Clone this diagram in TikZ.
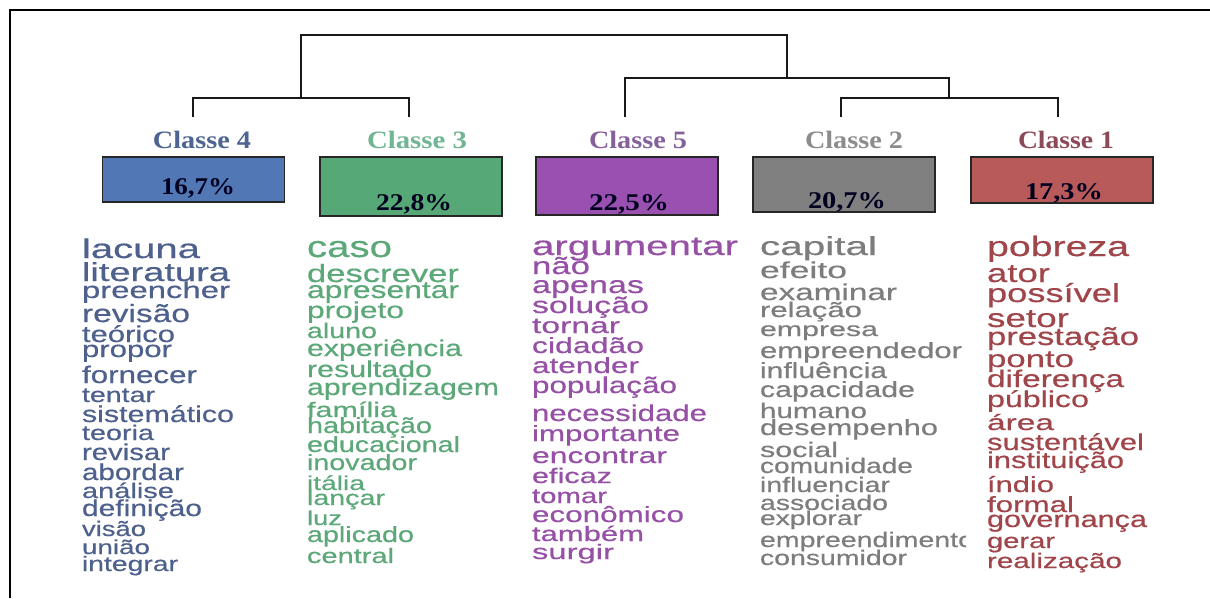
\documentclass[tikz,border=0pt]{standalone}
\usepackage{fontspec}
\usepackage{graphicx}
\setmainfont{Liberation Serif}
\newfontfamily\wordfont{Liberation Sans}[FakeBold=0.4]
\definecolor{cblue}{RGB}{78,96,140}
\definecolor{cgreen}{RGB}{92,168,120}
\definecolor{cpurple}{RGB}{150,80,165}
\definecolor{cgray}{RGB}{125,125,125}
\definecolor{cred}{RGB}{160,70,75}
\definecolor{fblue}{RGB}{82,119,181}
\definecolor{fgreen}{RGB}{86,169,119}
\definecolor{fpurple}{RGB}{154,80,176}
\definecolor{fgray}{RGB}{128,128,128}
\definecolor{fred}{RGB}{184,90,90}
\definecolor{lblue}{RGB}{77,101,144}
\definecolor{lgreen}{RGB}{114,181,146}
\definecolor{lpurple}{RGB}{133,96,154}
\definecolor{lgray}{RGB}{140,140,140}
\definecolor{lred}{RGB}{140,74,88}
\newcommand\fw[2]{\resizebox{#1pt}{\height}{#2}}
\newcommand\wf[1]{\wordfont\fontsize{\the\numexpr#1+1\relax}{20}\selectfont}
\tikzset{
  word/.style={anchor=base west, inner sep=0pt, outer sep=0pt},
  wb/.style={word, text=cblue},
  wg/.style={word, text=cgreen},
  wp/.style={word, text=cpurple},
  wy/.style={word, text=cgray},
  wr/.style={word, text=cred},
  pbox/.style={draw=black!85, line width=1.3pt, minimum width=182pt, inner sep=0pt},
  pct/.style={anchor=base, inner sep=0pt, text=black!88!blue, font=\bfseries\fontsize{24}{24}\selectfont},
  clabel/.style={anchor=base, inner sep=0pt, font=\bfseries\fontsize{25}{25}\selectfont},
  dend/.style={draw=black!90, line width=1.2pt},
  frame/.style={draw=black, line width=2.6pt}
}
\begin{document}
\begin{tikzpicture}[x=1pt,y=-1pt]
\useasboundingbox (0,0) rectangle (1210,598);
\fill[white] (0,0) rectangle (1210,598);
% frame
\coordinate (fa) at (10,598);
\coordinate (fb) at (10,10);
\coordinate (fc) at (1210,10);
\draw[frame] (fa) -- (fb) -- (fc);
% dendrogram joints
\coordinate (t4) at (193,117);
\coordinate (t3) at (409,117);
\coordinate (t5) at (625,117);
\coordinate (t2) at (841,117);
\coordinate (t1) at (1058,117);
\coordinate (j43) at (301,98);
\coordinate (j21) at (949,98);
\coordinate (j521) at (787,78);
\coordinate (jr) at (544,35);
\draw[dend] (t4) |- (j43) -| (t3);
\draw[dend] (t2) |- (j21) -| (t1);
\draw[dend] (t5) |- (j521) -| (j21);
\draw[dend] (j43) |- (jr) -| (j521);
% class labels
\node[clabel, text=lblue] (l4) at (202,148) {\fw{98}{Classe 4}};
\node[clabel, text=lgreen] (l3) at (417,148) {\fw{100}{Classe 3}};
\node[clabel, text=lpurple] (l5) at (638,148) {\fw{98}{Classe 5}};
\node[clabel, text=lgray] (l2) at (854,148) {\fw{98}{Classe 2}};
\node[clabel, text=lred] (l1) at (1066,148) {\fw{96}{Classe 1}};
% boxes
\node[pbox, fill=fblue, minimum height=45pt] (b4) at (193.5,179.5) {};
\node[pbox, fill=fgreen, minimum height=59pt] (b3) at (411,186.5) {};
\node[pbox, fill=fpurple, minimum height=58pt] (b5) at (627,186) {};
\node[pbox, fill=fgray, minimum height=55pt] (b2) at (844,184.5) {};
\node[pbox, fill=fred, minimum height=46pt] (b1) at (1062,180) {};
\node[pct] (p4) at (198,194) {\fw{74}{16,7\%}};
\node[pct] (p3) at (414,210) {\fw{76}{22,8\%}};
\node[pct] (p5) at (629,210) {\fw{80}{22,5\%}};
\node[pct] (p2) at (847,208) {\fw{78}{20,7\%}};
\node[pct] (p1) at (1064,199) {\fw{78}{17,3\%}};
% blue column
\node[wb, font=\wf{26}] (a1) at (82,258) {\fw{118}{lacuna}};
\node[wb, font=\wf{25}] (a2) at (82,281) {\fw{148}{literatura}};
\node[wb, font=\wf{22}] (a3) at (82,298) {\fw{148}{preencher}};
\node[wb, font=\wf{24}] (a4) at (82,322) {\fw{108}{revisão}};
\node[wb, font=\wf{22}] (a5) at (82,342) {\fw{93}{teórico}};
\node[wb, font=\wf{22}] (a6) at (82,357) {\fw{90}{propor}};
\node[wb, font=\wf{23}] (a7) at (82,383) {\fw{115}{fornecer}};
\node[wb, font=\wf{20}] (a8) at (82,402) {\fw{73}{tentar}};
\node[wb, font=\wf{22}] (a9) at (82,422) {\fw{152}{sistemático}};
\node[wb, font=\wf{20}] (a10) at (82,440) {\fw{72}{teoria}};
\node[wb, font=\wf{22}] (a11) at (82,460) {\fw{88}{revisar}};
\node[wb, font=\wf{22}] (a12) at (82,480) {\fw{102}{abordar}};
\node[wb, font=\wf{20}] (a13) at (82,498) {\fw{92}{análise}};
\node[wb, font=\wf{22}] (a14) at (82,516) {\fw{120}{definição}};
\node[wb, font=\wf{20}] (a15) at (82,536) {\fw{64}{visão}};
\node[wb, font=\wf{19}] (a16) at (82,554) {\fw{68}{união}};
\node[wb, font=\wf{20}] (a17) at (82,571) {\fw{96}{integrar}};
% green column
\node[wg, font=\wf{29}] (g1) at (307,257) {\fw{85}{caso}};
\node[wg, font=\wf{24}] (g2) at (307,282) {\fw{152}{descrever}};
\node[wg, font=\wf{23}] (g3) at (307,298) {\fw{152}{apresentar}};
\node[wg, font=\wf{22}] (g4) at (307,318) {\fw{97}{projeto}};
\node[wg, font=\wf{20}] (g5) at (307,338) {\fw{70}{aluno}};
\node[wg, font=\wf{22}] (g6) at (307,356) {\fw{155}{experiência}};
\node[wg, font=\wf{22}] (g7) at (307,377) {\fw{125}{resultado}};
\node[wg, font=\wf{22}] (g8) at (307,395) {\fw{192}{aprendizagem}};
\node[wg, font=\wf{20}] (g9) at (307,417) {\fw{90}{família}};
\node[wg, font=\wf{21}] (g10) at (307,433) {\fw{125}{habitação}};
\node[wg, font=\wf{21}] (g11) at (307,452) {\fw{153}{educacional}};
\node[wg, font=\wf{21}] (g12) at (307,470) {\fw{110}{inovador}};
\node[wg, font=\wf{19}] (g13) at (307,490) {\fw{58}{itália}};
\node[wg, font=\wf{20}] (g14) at (307,505) {\fw{78}{lançar}};
\node[wg, font=\wf{19}] (g15) at (307,525) {\fw{35}{luz}};
\node[wg, font=\wf{21}] (g16) at (307,542) {\fw{107}{aplicado}};
\node[wg, font=\wf{20}] (g17) at (307,563) {\fw{87}{central}};
% purple column
\node[wp, font=\wf{26}] (v1) at (532,255) {\fw{206}{argumentar}};
\node[wp, font=\wf{23}] (v2) at (532,274) {\fw{58}{não}};
\node[wp, font=\wf{23}] (v3) at (532,293) {\fw{112}{apenas}};
\node[wp, font=\wf{22}] (v4) at (532,313) {\fw{117}{solução}};
\node[wp, font=\wf{21}] (v5) at (532,333) {\fw{88}{tornar}};
\node[wp, font=\wf{21}] (v6) at (532,353) {\fw{112}{cidadão}};
\node[wp, font=\wf{21}] (v7) at (532,373) {\fw{107}{atender}};
\node[wp, font=\wf{22}] (v8) at (532,393) {\fw{145}{população}};
\node[wp, font=\wf{22}] (v9) at (532,421) {\fw{175}{necessidade}};
\node[wp, font=\wf{21}] (v10) at (532,441) {\fw{148}{importante}};
\node[wp, font=\wf{21}] (v11) at (532,463) {\fw{135}{encontrar}};
\node[wp, font=\wf{20}] (v12) at (532,483) {\fw{80}{eficaz}};
\node[wp, font=\wf{20}] (v13) at (532,503) {\fw{75}{tomar}};
\node[wp, font=\wf{21}] (v14) at (532,522) {\fw{152}{econômico}};
\node[wp, font=\wf{20}] (v15) at (532,541) {\fw{112}{também}};
\node[wp, font=\wf{20}] (v16) at (532,559) {\fw{82}{surgir}};
% gray column
\node[wy, font=\wf{25}] (c1) at (760,255) {\fw{117}{capital}};
\node[wy, font=\wf{22}] (c2) at (760,278) {\fw{87}{efeito}};
\node[wy, font=\wf{22}] (c3) at (760,300) {\fw{137}{examinar}};
\node[wy, font=\wf{20}] (c4) at (760,317) {\fw{102}{relação}};
\node[wy, font=\wf{19}] (c5) at (760,336) {\fw{118}{empresa}};
\node[wy, font=\wf{21}] (c6) at (760,358) {\fw{202}{empreendedor}};
\node[wy, font=\wf{21}] (c7) at (760,378) {\fw{127}{influência}};
\node[wy, font=\wf{21}] (c8) at (760,397) {\fw{155}{capacidade}};
\node[wy, font=\wf{20}] (c9) at (760,418) {\fw{107}{humano}};
\node[wy, font=\wf{21}] (c10) at (760,435) {\fw{178}{desempenho}};
\node[wy, font=\wf{20}] (c11) at (760,457) {\fw{78}{social}};
\node[wy, font=\wf{20}] (c12) at (760,473) {\fw{153}{comunidade}};
\node[wy, font=\wf{20}] (c13) at (760,492) {\fw{130}{influenciar}};
\node[wy, font=\wf{20}] (c14) at (760,510) {\fw{128}{associado}};
\node[wy, font=\wf{19}] (c15) at (760,525) {\fw{102}{explorar}};
\begin{scope}
\clip (750,525) rectangle (966,560);
\node[wy, font=\wf{20}] (c16) at (760,547) {\fw{214}{empreendimento}};
\end{scope}
\node[wy, font=\wf{20}] (c17) at (760,565) {\fw{147}{consumidor}};
% red column
\node[wr, font=\wf{27}] (r1) at (987,256) {\fw{142}{pobreza}};
\node[wr, font=\wf{25}] (r2) at (987,282) {\fw{63}{ator}};
\node[wr, font=\wf{25}] (r3) at (987,302) {\fw{133}{possível}};
\node[wr, font=\wf{25}] (r4) at (987,327) {\fw{82}{setor}};
\node[wr, font=\wf{24}] (r5) at (987,345) {\fw{152}{prestação}};
\node[wr, font=\wf{23}] (r6) at (987,367) {\fw{87}{ponto}};
\node[wr, font=\wf{23}] (r7) at (987,387) {\fw{137}{diferença}};
\node[wr, font=\wf{22}] (r8) at (987,407) {\fw{102}{público}};
\node[wr, font=\wf{21}] (r9) at (987,430) {\fw{67}{área}};
\node[wr, font=\wf{22}] (r10) at (987,450) {\fw{157}{sustentável}};
\node[wr, font=\wf{22}] (r11) at (987,468) {\fw{137}{instituição}};
\node[wr, font=\wf{21}] (r12) at (987,492) {\fw{67}{índio}};
\node[wr, font=\wf{21}] (r13) at (987,512) {\fw{87}{formal}};
\node[wr, font=\wf{22}] (r14) at (987,527) {\fw{160}{governança}};
\node[wr, font=\wf{20}] (r15) at (987,548) {\fw{68}{gerar}};
\node[wr, font=\wf{20}] (r16) at (987,568) {\fw{135}{realização}};
\end{tikzpicture}
\end{document}
